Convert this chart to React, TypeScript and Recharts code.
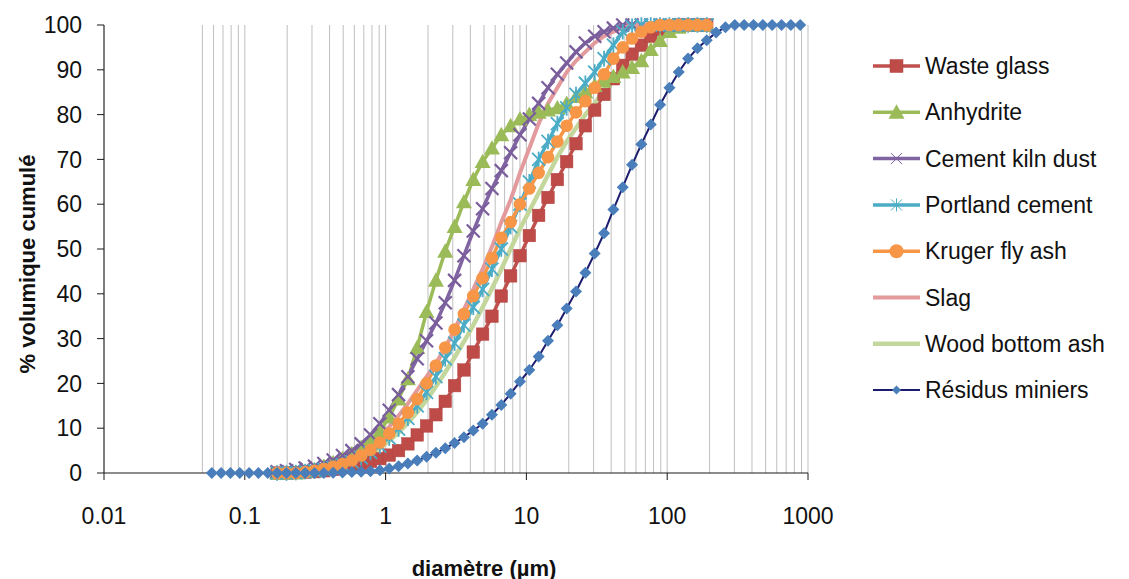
import React from 'react';
import { ComposedChart, Line, XAxis, YAxis, CartesianGrid } from 'recharts';

// Particle diameters (µm) of the size bands
const MATERIAL_D = [
  0.1697, 0.1977, 0.2303, 0.2683, 0.3126, 0.3641, 0.4242, 0.4942, 0.5758, 0.6708,
  0.7815, 0.9105, 1.061, 1.236, 1.44, 1.677, 1.954, 2.277, 2.652, 3.09,
  3.6, 4.195, 4.887, 5.693, 6.633, 7.727, 9.002, 10.49, 12.22, 14.24,
  16.59, 19.32, 22.51, 26.23, 30.56, 35.6, 41.47, 48.32, 56.29, 65.58,
  76.4, 89.01, 103.7, 120.8, 140.7, 164.0, 191.0,
];
const RESIDUS_D = [
  0.0583, 0.0679, 0.0791, 0.0921, 0.1073, 0.125, 0.1456, 0.1697, 0.1977, 0.2303,
  0.2683, 0.3126, 0.3641, 0.4242, 0.4942, 0.5758, 0.6708, 0.7815, 0.9105, 1.061,
  1.236, 1.44, 1.677, 1.954, 2.277, 2.652, 3.09, 3.6, 4.195, 4.887,
  5.693, 6.633, 7.727, 9.002, 10.49, 12.22, 14.24, 16.59, 19.32, 22.51,
  26.23, 30.56, 35.6, 41.47, 48.32, 56.29, 65.58, 76.4, 89.01, 103.7,
  120.8, 140.7, 164.0, 191.0, 222.5, 259.3, 302.1, 351.9, 410.0, 477.6,
  556.4, 648.3, 755.2, 879.9,
];

// Cumulative volume % per series
const WASTE_GLASS = [
  0, 0, 0.1, 0.2, 0.3, 0.5, 0.8, 1.2, 1.6, 2.1,
  2.6, 3.2, 4, 5, 6.5, 8.5, 10.5, 13, 16, 19.5,
  23, 27, 31, 35, 39.5, 44, 48.5, 53, 57.5, 61.5,
  65.5, 69.5, 73.5, 77.5, 81, 84.5, 88, 91, 93.5, 95.5,
  97.5, 99, 99.8, 100, 100, 100, 100,
];
const ANHYDRITE = [
  0, 0, 0, 0.3, 0.8, 1.5, 2.3, 3.2, 4.3, 5.7,
  7.3, 9.3, 12.5, 16.5, 21, 28, 36, 43, 49.5, 55,
  60.5, 65.5, 69.5, 72.5, 75.5, 77.5, 79, 80, 80.5, 81,
  81.5, 82.5, 84, 85, 86.5, 87.5, 88.5, 89.5, 90.5, 92,
  94.5, 96.5, 98.5, 99.5, 100, 100, 100,
];
const CEMENT_KILN_DUST = [
  0.3, 0.5, 0.8, 1.1, 1.5, 2.1, 2.9, 3.9, 5.0, 6.5,
  8.5, 11, 14, 17.5, 21.5, 25.5, 29.5, 33.5, 38, 43,
  48.5, 54, 59, 63.5, 67.5, 71.5, 75.5, 79, 82.5, 86,
  89, 91.5, 94, 96, 97.5, 98.5, 99.3, 100, 100, 100,
  100, 100, 100, 100, 100, 100, 100,
];
const PORTLAND_CEMENT = [
  0, 0, 0.1, 0.3, 0.5, 0.8, 1.2, 1.8, 2.5, 3.4,
  4.6, 6.0, 7.8, 9.8, 12.2, 15, 18, 21.5, 25.5, 29,
  33, 37, 41, 45.5, 50, 55, 60, 65, 70, 74,
  78, 81.5, 84.5, 87, 89.5, 92.5, 95.5, 98.5, 99.7, 100,
  100, 100, 100, 100, 100, 100, 100,
];
const KRUGER_FLY_ASH = [
  0, 0, 0, 0.2, 0.5, 0.9, 1.4, 2.0, 2.8, 3.9,
  5.2, 6.8, 8.8, 11, 13.5, 16.5, 20, 24, 28, 32,
  35.5, 39.5, 43.5, 48, 52.5, 56, 60, 63.5, 67, 70.5,
  74, 77.5, 80.5, 83, 86, 89, 92.5, 95, 97, 98.5,
  99.5, 100, 100, 100, 100, 100, 100,
];
const SLAG = [
  0, 0.1, 0.3, 0.5, 0.8, 1.2, 1.8, 2.6, 3.6, 4.9,
  6.4, 8.2, 10.3, 12.8, 15.5, 18.5, 21.5, 24.5, 28, 32,
  36.5, 41, 45.5, 50.5, 56, 61, 67, 72.5, 78, 82.5,
  86, 89.5, 92, 94, 96, 97.5, 98.5, 99.3, 100, 100,
  100, 100, 100, 100, 100, 100, 100,
];
const WOOD_BOTTOM_ASH = [
  0, 0, 0.1, 0.2, 0.4, 0.7, 1.1, 1.6, 2.3, 3.2,
  4.3, 5.6, 7.2, 9.0, 11.2, 13.6, 16.3, 19.3, 22.5, 25.8,
  29.3, 33, 37, 41.2, 45.5, 50, 54.5, 58.5, 62.5, 66.5,
  70.5, 74, 77, 80, 82.5, 85.5, 88, 90.5, 93, 95.2,
  96.8, 98, 98.8, 99.2, 99.2, 99.2, 99.2,
];
const RESIDUS_MINIERS = [
  0, 0, 0, 0, 0, 0, 0, 0, 0, 0,
  0, 0, 0, 0.05, 0.1, 0.2, 0.3, 0.4, 0.6, 1.0,
  1.5, 2.1, 2.8, 3.6, 4.5, 5.5, 6.7, 8.0, 9.5, 11,
  13, 15.2, 17.7, 20.4, 23, 26, 29.5, 33, 36.7, 40.5,
  44.7, 49, 53.5, 58.8, 63.8, 68.8, 73.4, 77.8, 82.2, 86,
  89.5, 92.5, 94.8, 96.6, 98.3, 99.5, 100, 100, 100, 100,
  100, 100, 100, 100,
];

const SERIES_NAMES = [
  'Waste glass', 'Anhydrite', 'Cement kiln dust', 'Portland cement',
  'Kruger fly ash', 'Slag', 'Wood bottom ash', 'Résidus miniers',
];

const X_TICKS = [0.01, 0.1, 1, 10, 100, 1000];
const X_TICK_LABELS = ['0.01', '0.1', '1', '10', '100', '1000'];
const Y_TICKS = [0, 10, 20, 30, 40, 50, 60, 70, 80, 90, 100];
const GRID_X = [
  0.05, 0.06, 0.07, 0.08, 0.09,
  0.1, 0.2, 0.3, 0.4, 0.5, 0.6, 0.7, 0.8, 0.9,
  1, 2, 3, 4, 5, 6, 7, 8, 9,
  10, 20, 30, 40, 50, 60, 70, 80, 90,
  100, 200, 300, 400, 500, 600, 700, 800, 900, 1000,
];

type Shape = 'square' | 'triangle' | 'x' | 'asterisk' | 'circle' | 'none' | 'diamond';

const drawMarker = (shape: Shape, cx: number, cy: number, color: string, key: any, legend = false) => {
  switch (shape) {
    case 'square': {
      const s = legend ? 13 : 12.5;
      return <rect key={key} x={cx - s / 2} y={cy - s / 2} width={s} height={s} fill={color} stroke="#B04542" strokeWidth={0.5} />;
    }
    case 'triangle': {
      const s = 8;
      return <polygon key={key} points={`${cx},${cy - s} ${cx + s},${cy + s * 0.8} ${cx - s},${cy + s * 0.8}`} fill={color} />;
    }
    case 'x': {
      const s = legend ? 5.5 : 6.5;
      return (
        <g key={key} stroke={color} strokeWidth={legend ? 1 : 2.2}>
          <line x1={cx - s} y1={cy - s} x2={cx + s} y2={cy + s} />
          <line x1={cx - s} y1={cy + s} x2={cx + s} y2={cy - s} />
        </g>
      );
    }
    case 'asterisk': {
      const s = legend ? 5.5 : 6.5;
      return (
        <g key={key} stroke={color} strokeWidth={legend ? 1 : 1.8}>
          <line x1={cx - s} y1={cy - s} x2={cx + s} y2={cy + s} />
          <line x1={cx - s} y1={cy + s} x2={cx + s} y2={cy - s} />
          <line x1={cx} y1={cy - s * 1.2} x2={cx} y2={cy + s * 1.2} />
        </g>
      );
    }
    case 'circle':
      return <circle key={key} cx={cx} cy={cy} r={legend ? 7 : 6.3} fill={color} />;
    case 'diamond': {
      const s = legend ? 4.5 : 6;
      return <polygon key={key} points={`${cx},${cy - s} ${cx + s},${cy} ${cx},${cy + s} ${cx - s},${cy}`} fill={color} />;
    }
    default:
      return <g key={key} />;
  }
};

const makeDot = (shape: Shape, color: string) => (p: any) => {
  const { cx, cy, index } = p;
  if (cx == null || cy == null || Number.isNaN(cx) || Number.isNaN(cy)) return <g key={index} />;
  return drawMarker(shape, cx, cy, color, index);
};

const toRows = (xs: number[], ys: number[]) => xs.map((d, i) => ({ d, v: ys[i] }));

const SERIES = [
  { name: SERIES_NAMES[0], rows: toRows(MATERIAL_D, WASTE_GLASS), stroke: '#C0504D', marker: '#BE4B48', width: 3.5, shape: 'square' as Shape },
  { name: SERIES_NAMES[1], rows: toRows(MATERIAL_D, ANHYDRITE), stroke: '#9BBB59', marker: '#9BBB59', width: 3.5, shape: 'triangle' as Shape },
  { name: SERIES_NAMES[2], rows: toRows(MATERIAL_D, CEMENT_KILN_DUST), stroke: '#8064A2', marker: '#7A5E9C', width: 3.5, shape: 'x' as Shape },
  { name: SERIES_NAMES[3], rows: toRows(MATERIAL_D, PORTLAND_CEMENT), stroke: '#4BACC6', marker: '#4BACC6', width: 3.5, shape: 'asterisk' as Shape },
  { name: SERIES_NAMES[4], rows: toRows(MATERIAL_D, KRUGER_FLY_ASH), stroke: '#F79646', marker: '#F79646', width: 3.5, shape: 'circle' as Shape },
  { name: SERIES_NAMES[5], rows: toRows(MATERIAL_D, SLAG), stroke: '#E39A9C', marker: '#E39A9C', width: 4, shape: 'none' as Shape },
  { name: SERIES_NAMES[6], rows: toRows(MATERIAL_D, WOOD_BOTTOM_ASH), stroke: '#C3D69B', marker: '#C3D69B', width: 4.5, shape: 'none' as Shape },
  { name: SERIES_NAMES[7], rows: toRows(RESIDUS_D, RESIDUS_MINIERS), stroke: '#1C1C6E', marker: '#4A7EBB', width: 2, shape: 'diamond' as Shape },
];

const fmtX = (v: number) => {
  const i = X_TICKS.findIndex((t) => Math.abs(t - v) / t < 1e-6);
  return i >= 0 ? X_TICK_LABELS[i] : String(v);
};

const FONT = '"Liberation Sans", Arial, sans-serif';

export default function App() {
  return (
    <div style={{ position: 'absolute', left: 0, top: 0, width: 1129, height: 579, background: '#fff', fontFamily: FONT }}>
      <ComposedChart width={1129} height={579} margin={{ top: 25, right: 321, bottom: 46, left: 44 }}>
        <XAxis
          xAxisId="grid"
          type="number"
          dataKey="d"
          scale="log"
          domain={[0.01, 1000]}
          allowDataOverflow
          ticks={GRID_X}
          interval={0}
          hide
        />
        <CartesianGrid horizontal={false} xAxisId="grid" stroke="#BFBFBF" strokeWidth={1} />
        <XAxis
          type="number"
          dataKey="d"
          scale="log"
          domain={[0.01, 1000]}
          allowDataOverflow
          ticks={X_TICKS}
          interval={0}
          tickFormatter={fmtX}
          height={60}
          tickSize={7}
          tickMargin={28}
          axisLine={{ stroke: '#1a1a1a', strokeWidth: 1 }}
          tickLine={{ stroke: '#1a1a1a', strokeWidth: 1 }}
          tick={{ fill: '#111', fontSize: 23, fontFamily: FONT }}
        />
        <YAxis
          type="number"
          domain={[0, 100]}
          ticks={Y_TICKS}
          interval={0}
          width={60}
          tickSize={7}
          tickMargin={15}
          axisLine={{ stroke: '#1a1a1a', strokeWidth: 1 }}
          tickLine={{ stroke: '#1a1a1a', strokeWidth: 1 }}
          tick={{ fill: '#111', fontSize: 23, fontFamily: FONT }}
        />
        {SERIES.map((s) => (
          <Line
            key={s.name}
            name={s.name}
            data={s.rows}
            dataKey="v"
            type="linear"
            stroke={s.stroke}
            strokeWidth={s.width}
            dot={s.shape === 'none' ? false : makeDot(s.shape, s.marker)}
            activeDot={false}
            isAnimationActive={false}
            legendType="none"
          />
        ))}
      </ComposedChart>
      <svg width={1129} height={579} style={{ position: 'absolute', left: 0, top: 0, pointerEvents: 'none' }}>
        <text x={27} y={264} transform="rotate(-90 27 264)" textAnchor="middle" dominantBaseline="central" fontSize={22} fontWeight="bold" fill="#111" fontFamily={FONT}>
          % volumique cumulé
        </text>
        <text x={484} y={568} textAnchor="middle" dominantBaseline="central" fontSize={22} fontWeight="bold" fill="#111" fontFamily={FONT}>
          diamètre (µm)
        </text>
        {SERIES.map((s, i) => {
          const y = 66 + 46.3 * i;
          return (
            <g key={s.name}>
              <line x1={873} x2={920} y1={y} y2={y} stroke={s.stroke} strokeWidth={s.width} />
              {drawMarker(s.shape, 896.5, y, s.marker, 'm', true)}
              <text x={925} y={y} dominantBaseline="central" fontSize={23} fill="#111" fontFamily={FONT}>
                {s.name}
              </text>
            </g>
          );
        })}
      </svg>
    </div>
  );
}
